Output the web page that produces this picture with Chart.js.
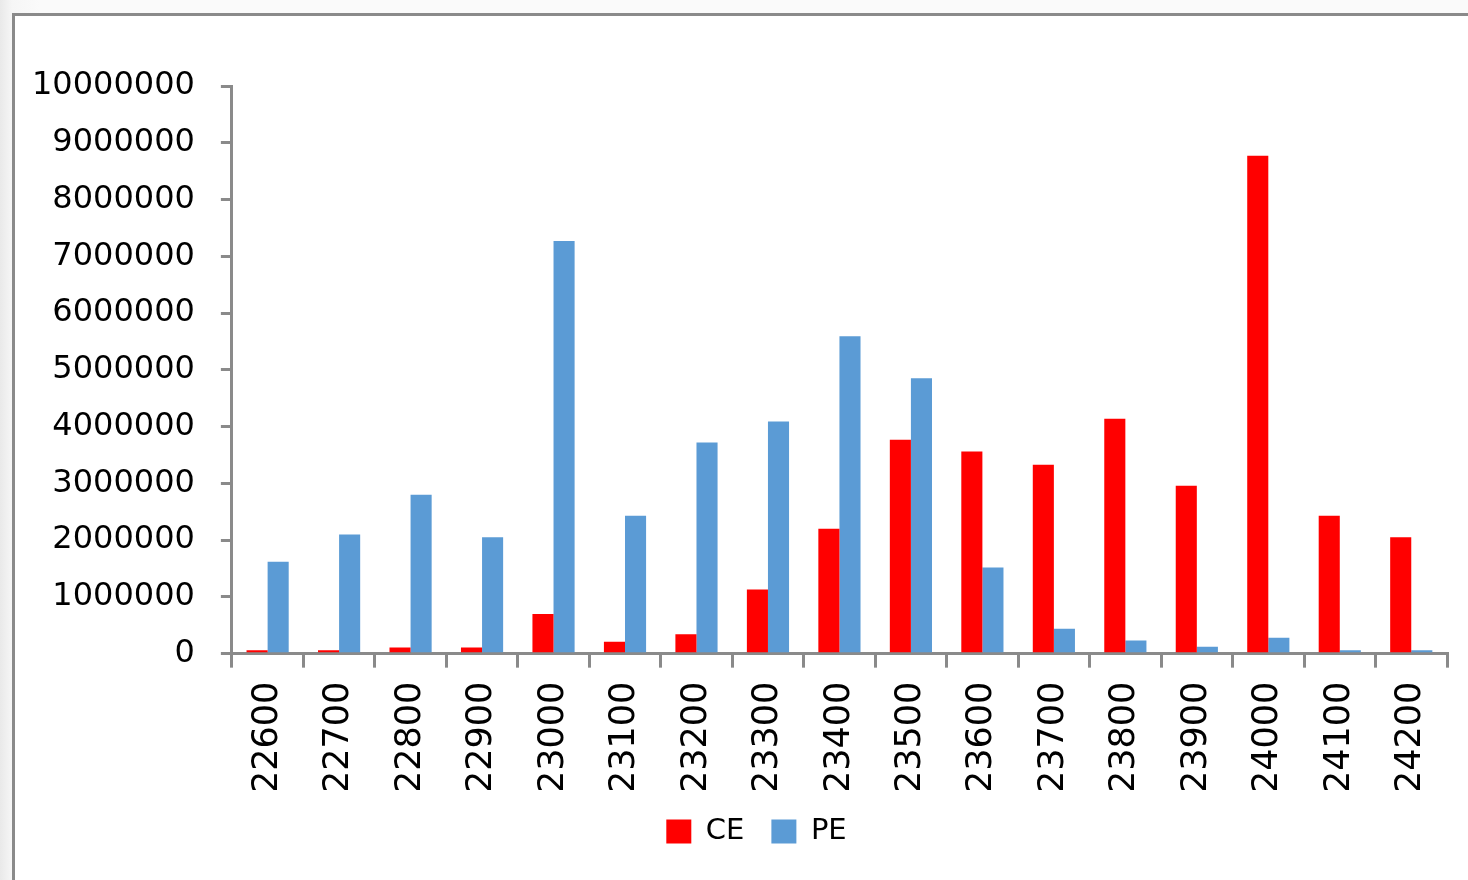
<!DOCTYPE html>
<html>
<head>
<meta charset="utf-8">
<script src="https://cdn.jsdelivr.net/npm/chart.js@4/dist/chart.umd.min.js"></script>
<style>
    html, body { margin: 0; padding: 0; }
    body {
        width: 1468px;
        height: 880px;
        overflow: hidden;
        background: linear-gradient(to right, #e9e9e9 0px, #f6f6f6 12px, #fafafa 40px);
        position: relative;
    }
    #cornice {
        position: absolute;
        left: 12px;
        top: 13px;
        width: 1490px;
        height: 900px;
        overflow: hidden;
        background: #ffffff;
        border-left: 3px solid #8a8a8a;
        border-top: 3px solid #8a8a8a;
    }
    #myChart { position: absolute; left: -23px; top: 0; }
</style>
</head>
<body>
<div id="cornice">
    <canvas id="myChart" width="1517" height="864"></canvas>
</div>
<script>
// strike e valori
var strike = ['22600', '22700', '22800', '22900', '23000', '23100', '23200', '23300', '23400',
              '23500', '23600', '23700', '23800', '23900', '24000', '24100', '24200'];

var ce = [60000, 60000, 110000, 110000, 700000, 210000, 340000, 1130000, 2200000,
          3770000, 3560000, 3330000, 4140000, 2960000, 8770000, 2430000, 2050000];

var pe = [1620000, 2100000, 2800000, 2050000, 7270000, 2430000, 3720000, 4090000, 5590000,
          4850000, 1520000, 440000, 230000, 120000, 280000, 60000, 60000];

var y_min = 0;
var y_max = 10000000;
var y_step = 1000000;

var grigio = '#8a8a8a';

// sposto un po' a destra la legenda, come nell'originale
var sposta_legenda = {
    id: 'sposta_legenda',
    afterLayout: function(chart) {
        chart.legend.left += 60;
    }
};

// creo il grafico con chartjs;
var ctx = document.getElementById('myChart').getContext('2d');

var myChart = new Chart(ctx, {
    type: 'bar',
    data: {
        labels: strike,
        datasets: [{
            label: 'CE',
            data: ce,
            backgroundColor: '#ff0000',
            borderWidth: 0
        }, {
            label: 'PE',
            data: pe,
            backgroundColor: '#5b9bd5',
            borderWidth: 0
        }]
    },
    plugins: [sposta_legenda],
    options: {
        responsive: false,
        animation: false,
        categoryPercentage: 0.59,
        barPercentage: 1,
        layout: {
            padding: { top: 70, left: 14, right: 62, bottom: 24 }
        },
        plugins: {
            tooltip: { enabled: false },
            legend: {
                position: 'bottom',
                labels: {
                    boxWidth: 25,
                    boxHeight: 24,
                    padding: 27,
                    color: '#000000',
                    font: { family: 'DejaVu Sans', size: 29 }
                }
            }
        },
        scales: {
            x: {
                border: { color: grigio, width: 3 },
                grid: {
                    display: true,
                    drawOnChartArea: false,
                    drawTicks: true,
                    tickLength: 14,
                    color: grigio,
                    lineWidth: 3
                },
                ticks: {
                    minRotation: 90,
                    maxRotation: 90,
                    padding: 14,
                    color: '#000000',
                    font: { family: 'DejaVu Sans', size: 35 }
                },
                // avvicino la legenda alle etichette
                afterFit: function(scale) {
                    scale.height -= 17;
                }
            },
            y: {
                min: y_min,
                max: y_max,
                border: { color: grigio, width: 3 },
                grid: {
                    display: true,
                    drawOnChartArea: false,
                    drawTicks: true,
                    tickLength: 11,
                    color: grigio,
                    lineWidth: 3
                },
                ticks: {
                    stepSize: y_step,
                    padding: 26,
                    color: '#000000',
                    font: { family: 'DejaVu Sans', size: 32 },
                    callback: function(value) { return String(value); }
                }
            }
        }
    }
});
</script>
</body>
</html>
